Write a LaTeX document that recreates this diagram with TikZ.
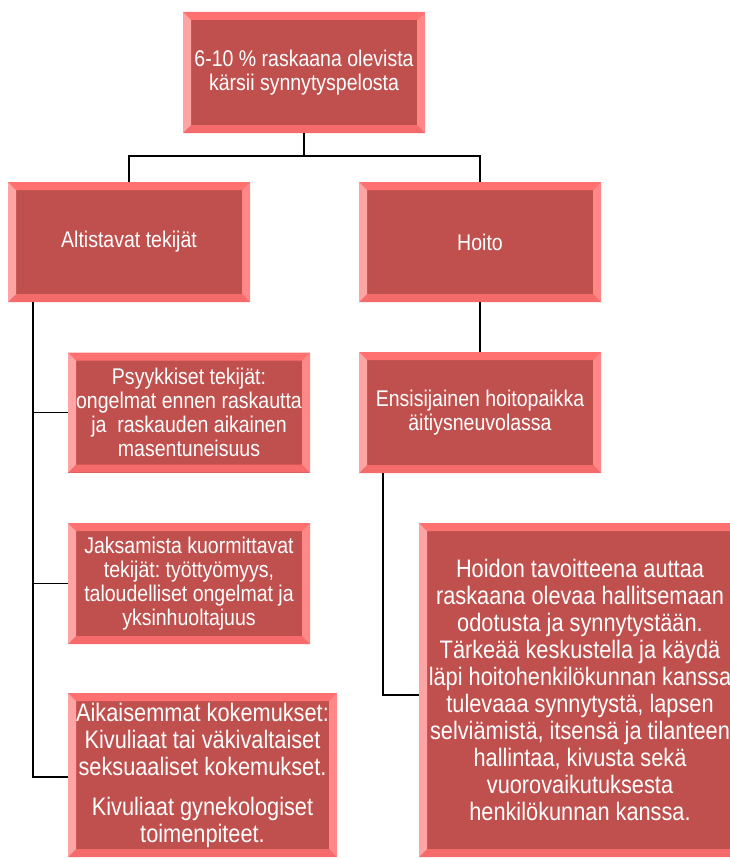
\documentclass[tikz,border=0pt]{standalone}
\usepackage{fontspec}
\setmainfont[FakeStretch=0.86]{Liberation Sans}
\frenchspacing
\definecolor{boxfill}{HTML}{C0504D}
\definecolor{bevtop}{HTML}{FF7171}
\definecolor{bevleft}{HTML}{FFA4A4}
\definecolor{bevright}{HTML}{FF8787}
\definecolor{bevbot}{HTML}{F56B6B}
\tikzset{
  bevbox/.style={rectangle, fill=boxfill, text=white, align=center, inner sep=0pt,
    font=\fontsize{22.7}{23.8}\selectfont\frenchspacing,
    path picture={
      \fill[bevtop] (path picture bounding box.north west) -- (path picture bounding box.north east)
        -- ([shift={(-8pt,-8pt)}]path picture bounding box.north east)
        -- ([shift={(8pt,-8pt)}]path picture bounding box.north west) -- cycle;
      \fill[bevbot] (path picture bounding box.south west) -- (path picture bounding box.south east)
        -- ([shift={(-8pt,8pt)}]path picture bounding box.south east)
        -- ([shift={(8pt,8pt)}]path picture bounding box.south west) -- cycle;
      \fill[bevleft] (path picture bounding box.north west)
        -- ([shift={(8pt,-8pt)}]path picture bounding box.north west)
        -- ([shift={(8pt,8pt)}]path picture bounding box.south west)
        -- (path picture bounding box.south west) -- cycle;
      \fill[bevright] (path picture bounding box.north east)
        -- ([shift={(-8pt,-8pt)}]path picture bounding box.north east)
        -- ([shift={(-8pt,8pt)}]path picture bounding box.south east)
        -- (path picture bounding box.south east) -- cycle;
    }},
  bigtext/.style={font=\fontsize{25.3}{27}\selectfont\frenchspacing},
  conn/.style={draw=black, line width=1.8pt}
}
\begin{document}
\begin{tikzpicture}[x=1pt,y=-1pt]
\useasboundingbox (0,0) rectangle (730,859);
\clip (0,0) rectangle (730,859);
\node[bevbox, minimum width=242pt, minimum height=121pt] (top) at (304,72.5)
  {6-10 \% raskaana olevista\\kärsii synnytyspelosta};
\node[bevbox, minimum width=242pt, minimum height=120pt] (alt) at (129,242) {Altistavat tekijät};
\node[bevbox, minimum width=242pt, minimum height=120pt] (hoito) at (480,242) {Hoito};
\node[bevbox, minimum width=242pt, minimum height=120pt] (psy) at (189,412.5)
  {Psyykkiset tekijät:\\ongelmat ennen raskautta\\ja\ \ raskauden aikainen\\masentuneisuus};
\node[bevbox, minimum width=242pt, minimum height=121pt] (ensi) at (480,412.5)
  {Ensisijainen hoitopaikka\\äitiysneuvolassa};
\node[bevbox, minimum width=242pt, minimum height=121pt] (jak) at (189,583.5)
  {Jaksamista kuormittavat\\tekijät: työttyömyys,\\taloudelliset ongelmat ja\\yksinhuoltajuus};
\node[bevbox, bigtext, minimum width=269pt, minimum height=164pt] (aik) at (202.5,775)
  {Aikaisemmat kokemukset:\\Kivuliaat tai väkivaltaiset\\seksuaaliset kokemukset.\\[13pt]Kivuliaat gynekologiset\\toimenpiteet.};
\node[bevbox, bigtext, minimum width=322pt, minimum height=334pt] (hoidon) at (580,690)
  {Hoidon tavoitteena auttaa\\raskaana olevaa hallitsemaan\\odotusta ja synnytystään.\\Tärkeää keskustella ja käydä\\läpi hoitohenkilökunnan kanssa\\tulevaaa synnytystä, lapsen\\selviämistä, itsensä ja tilanteen\\hallintaa, kivusta sekä\\vuorovaikutuksesta\\henkilökunnan kanssa.};
\coordinate (j1) at (304,156);
\coordinate (t0) at ([xshift=25pt]alt.south west);
\coordinate (e0) at ([xshift=24pt]ensi.south west);
\draw[conn] (top.south) -- (j1);
\draw[conn] (alt.north) |- (j1) -| (hoito.north);
\draw[conn] (t0) |- (psy.west);
\draw[conn] (t0) |- (jak.west);
\draw[conn] (t0) |- ([yshift=-2pt]aik.west);
\draw[conn] (hoito.south) -- (ensi.north);
\draw[conn] (e0) |- ([yshift=-5pt]hoidon.west);
\end{tikzpicture}
\end{document}
